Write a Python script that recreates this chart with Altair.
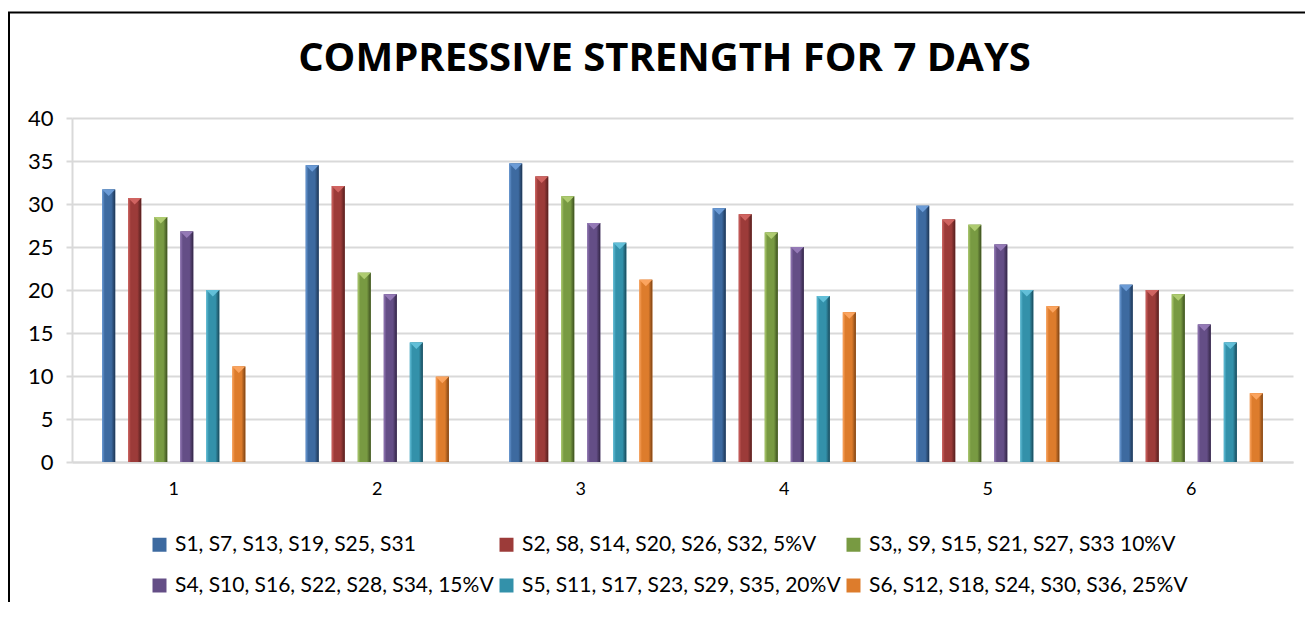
import altair as alt
import pandas as pd

groups = ["1", "2", "3", "4", "5", "6"]
series = [
    "S1, S7, S13, S19, S25, S31",
    "S2, S8, S14, S20, S26, S32, 5%V",
    "S3,, S9, S15, S21, S27, S33 10%V",
    "S4, S10, S16, S22, S28, S34, 15%V",
    "S5, S11, S17, S23, S29, S35, 20%V",
    "S6, S12, S18, S24, S30, S36, 25%V",
]
s1 = [31.7, 34.5, 34.7, 29.5, 29.8, 20.6]
s2 = [30.7, 32.1, 33.2, 28.8, 28.2, 20.0]
s3 = [28.5, 22.0, 30.9, 26.7, 27.6, 19.5]
s4 = [26.8, 19.5, 27.8, 25.0, 25.3, 16.0]
s5 = [20.0, 13.9, 25.5, 19.3, 20.0, 13.9]
s6 = [11.1, 9.9, 21.2, 17.4, 18.1, 8.0]
values = [s1, s2, s3, s4, s5, s6]

light = ["#6b9bd6", "#d06461", "#aecb70", "#9479b6", "#62bfd8", "#fba45f"]
mid = ["#3d6aa0", "#9c3b39", "#789a42", "#644e86", "#3391aa", "#dd7c2c"]
dark = ["#1d3553", "#551f1e", "#3c4f1f", "#322545", "#19495a", "#7d4314"]

rows = []
for si, name in enumerate(series):
    for gi, g in enumerate(groups):
        rows.append({"group": g, "series": name, "value": values[si][gi]})
df = pd.DataFrame(rows)

FONT = "Lato"
GRID = "#d9d9d9"

x_enc = alt.X(
    "group:N",
    sort=groups,
    scale=alt.Scale(paddingInner=0.2966, paddingOuter=0.1483),
    axis=alt.Axis(title=None, labelAngle=0, labelFontSize=18, labelFont=FONT,
                  labelColor="#000000", labelPadding=18, ticks=False,
                  domainColor=GRID, domainWidth=2, grid=False),
)
xo_enc = alt.XOffset("series:N", sort=series,
                     scale=alt.Scale(domain=series, paddingInner=0.5, paddingOuter=0))
y_enc = alt.Y(
    "value:Q",
    scale=alt.Scale(domain=[0, 40], nice=False),
    axis=alt.Axis(title=None, values=[0, 5, 10, 15, 20, 25, 30, 35, 40],
                  labelFontSize=22, labelFont=FONT, labelColor="#000000",
                  tickSize=6, tickColor=GRID, tickWidth=2, labelPadding=13,
                  domainColor=GRID, domainWidth=2, gridColor=GRID, gridWidth=2),
)

base = alt.Chart(df).mark_bar().encode(
    x=x_enc,
    xOffset=xo_enc,
    y=y_enc,
    color=alt.Color(
        "series:N",
        sort=series,
        scale=alt.Scale(domain=series, range=mid),
        legend=alt.Legend(
            title=None, orient="none", legendX=77, legendY=416, columns=3,
            direction="horizontal", symbolType="square", symbolSize=196,
            symbolStrokeWidth=0, labelFontSize=21, labelFont=FONT,
            labelColor="#000000", labelOffset=5, columnPadding=2,
            rowPadding=19, labelLimit=600,
        ),
    ),
)

layers = [base]
for i, name in enumerate(series):
    grad = alt.Gradient(
        gradient="linear",
        stops=[
            alt.GradientStop(color=light[i], offset=0),
            alt.GradientStop(color=mid[i], offset=0.2),
            alt.GradientStop(color=mid[i], offset=0.7),
            alt.GradientStop(color=dark[i], offset=1),
        ],
        x1=0, x2=1, y1=0, y2=0,
    )
    bar = alt.Chart(df).transform_filter(alt.datum.series == name).mark_bar(
        color=grad
    ).encode(x=x_enc, xOffset=xo_enc, y=y_enc)
    tri = alt.Chart(df).transform_filter(alt.datum.series == name).mark_point(
        shape="M-1,-1L1,-1L0,0Z", filled=True, opacity=1, size=169,
        color=light[i], yOffset=6.5, strokeWidth=0,
    ).encode(x=x_enc, xOffset=xo_enc, y=y_enc)
    layers += [bar, tri]

frame_df = pd.DataFrame({"k": [0]})
top_border = alt.Chart(frame_df).mark_rule(color="#000000", strokeWidth=2).encode(
    x=alt.value(-64), x2=alt.value(1245), y=alt.value(-105.5)
)
left_border = alt.Chart(frame_df).mark_rule(color="#000000", strokeWidth=2).encode(
    x=alt.value(-63), y=alt.value(-106), y2=alt.value(500)
)
layers += [top_border, left_border]

chart = alt.layer(*layers).properties(
    width=1221,
    height=344,
    autosize=alt.AutoSizeParams(type="none"),
    padding={"left": 64, "top": 110, "right": 12, "bottom": 140},
    title=alt.TitleParams(
        "COMPRESSIVE STRENGTH FOR 7 DAYS", font="Open Sans", fontSize=40,
        fontWeight="bold", color="#000000", anchor="middle", frame="group",
        offset=-68, dx=-18,
    ),
).configure_view(strokeWidth=0)

chart.save("out.html", embed_options={"renderer": "svg", "actions": False})
